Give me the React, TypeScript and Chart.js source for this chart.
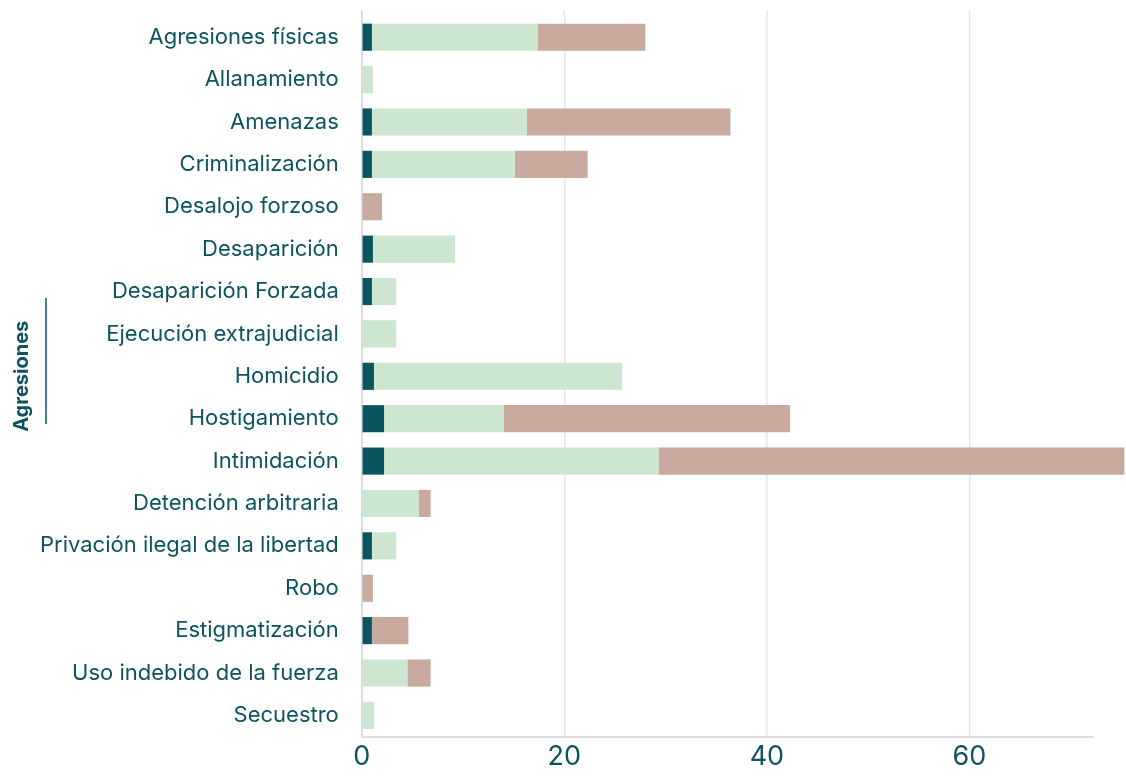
import React, { useEffect, useRef } from "react";
import { Chart, registerables } from "chart.js";

Chart.register(...registerables);

const categories = [
  "Agresiones físicas",
  "Allanamiento",
  "Amenazas",
  "Criminalización",
  "Desalojo forzoso",
  "Desaparición",
  "Desaparición Forzada",
  "Ejecución extrajudicial",
  "Homicidio",
  "Hostigamiento",
  "Intimidación",
  "Detención arbitraria",
  "Privación ilegal de la libertad",
  "Robo",
  "Estigmatización",
  "Uso indebido de la fuerza",
  "Secuestro",
];

const seriesDark = [1, 0, 1, 1, 0, 1.1, 1, 0, 1.2, 2.2, 2.2, 0, 1, 0, 1, 0, 0];
const seriesLight = [16.4, 1.1, 15.3, 14.1, 0, 8.1, 2.4, 3.4, 24.5, 11.8, 27.1, 5.6, 2.4, 0, 0, 4.5, 1.2];
const seriesTan = [10.6, 0, 20.1, 7.2, 2, 0, 0, 0, 0, 28.3, 46, 1.2, 0, 1.1, 3.6, 2.3, 0];

const xTicks = [0, 20, 40, 60];
const axisTitle = "Agresiones";

const TEXT = "#0e5460";
const FONT = "Inter, 'Noto Sans', sans-serif";

export default function App() {
  const ref = useRef<HTMLCanvasElement | null>(null);

  useEffect(() => {
    if (!ref.current) return;
    const extras = {
      id: "extras",
      beforeDatasetsDraw(chart: any) {
        const ctx = chart.ctx;
        const x = chart.scales.x;
        const top = chart.chartArea.top;
        ctx.save();
        xTicks.forEach((v) => {
          const px = x.getPixelForValue(v);
          ctx.strokeStyle = v === 0 ? "#dcdce6" : "#e6e6ee";
          ctx.lineWidth = v === 0 ? 2 : 1.5;
          ctx.beginPath();
          ctx.moveTo(px, 10);
          ctx.lineTo(px, top);
          ctx.stroke();
        });
        ctx.restore();
      },
      afterDraw(chart: any) {
        const ctx = chart.ctx;
        ctx.save();
        ctx.strokeStyle = TEXT;
        ctx.lineWidth = 1.5;
        ctx.beginPath();
        ctx.moveTo(46, 298);
        ctx.lineTo(46, 424);
        ctx.stroke();
        ctx.restore();
      },
    };
    const chart = new Chart(ref.current, {
      type: "bar",
      data: {
        labels: categories,
        datasets: [
          { label: "a", data: seriesDark, backgroundColor: "#0b5560", clip: false as any },
          { label: "b", data: seriesLight, backgroundColor: "#cde6cf", clip: false as any },
          { label: "c", data: seriesTan, backgroundColor: "#c8aa9e", clip: false as any },
        ],
      },
      options: {
        indexAxis: "y",
        animation: false,
        responsive: false,
        maintainAspectRatio: false,
        layout: { padding: { top: 16, right: 33, left: 10, bottom: 0 } },
        plugins: { legend: { display: false }, tooltip: { enabled: false } },
        datasets: { bar: { barPercentage: 0.64, categoryPercentage: 1 } },
        scales: {
          x: {
            stacked: true,
            min: 0,
            max: 72.2,
            afterBuildTicks: (scale: any) => {
              scale.ticks = xTicks.map((v) => ({ value: v }));
            },
            grid: {
              color: "#e6e6ee",
              lineWidth: 1.5,
              drawTicks: false,
            },
            border: { color: "#dcdce6", width: 2 },
            ticks: {
              color: TEXT,
              font: { family: FONT, size: 27 },
              padding: 4,
            },
          },
          y: {
            stacked: true,
            afterFit: (scale: any) => {
              scale.paddingTop = 0;
              scale.paddingBottom = 0;
              scale.width -= 11;
            },
            grid: { display: false },
            border: { color: "#dcdce6", width: 2 },
            ticks: {
              color: TEXT,
              font: { family: FONT, size: 22 },
              padding: 15,
            },
            title: {
              display: true,
              text: axisTitle,
              color: TEXT,
              font: { family: FONT, size: 20, weight: "bold" },
              padding: { top: 0, bottom: 2 },
            },
          },
        },
      },
      plugins: [extras],
    });
    return () => chart.destroy();
  }, []);

  return (
    <div style={{ position: "absolute", left: 0, top: 0, width: 1126, height: 777, background: "#fff" }}>
      <canvas ref={ref} width={1126} height={777} style={{ width: 1126, height: 777 }} />
    </div>
  );
}
